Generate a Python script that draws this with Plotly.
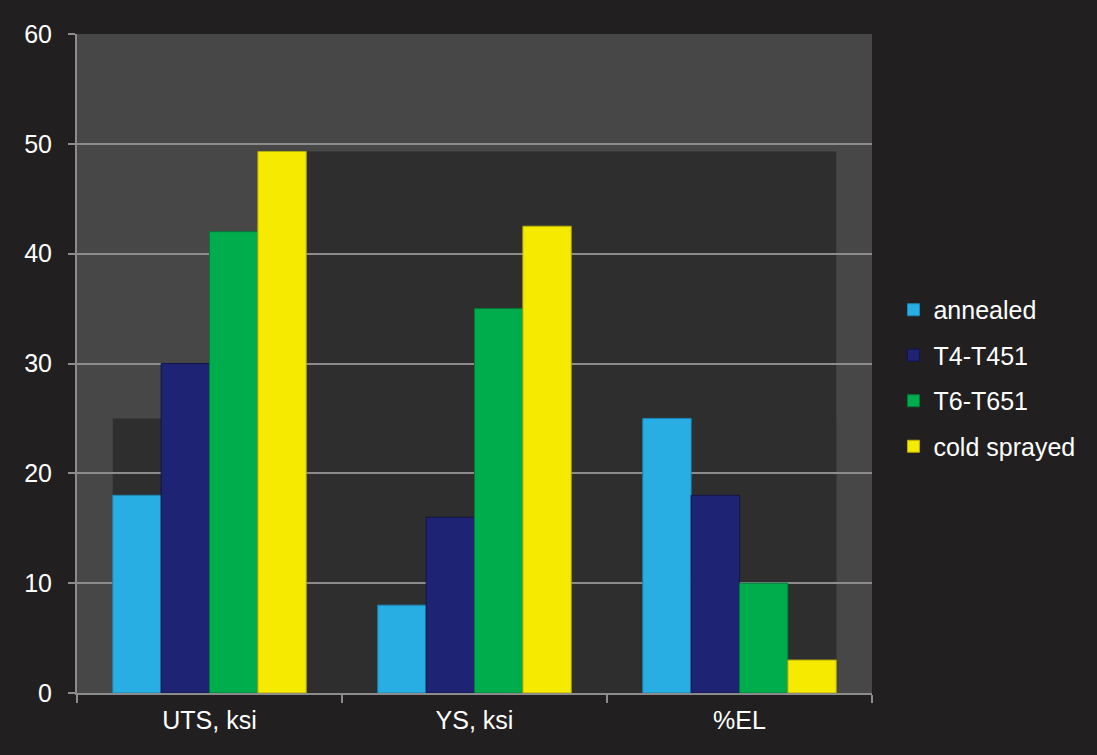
import plotly.graph_objects as go

categories = ["UTS, ksi", "YS, ksi", "%EL"]
annealed = [18, 8, 25]
t4_t451 = [30, 16, 18]
t6_t651 = [42, 35, 10]
cold_sprayed = [49.3, 42.5, 3]

series = [
    ("annealed", annealed, "#29aee4", "#1a86b8"),
    ("T4-T451", t4_t451, "#1f2374", "#12154a"),
    ("T6-T651", t6_t651, "#00ad4c", "#007a35"),
    ("cold sprayed", cold_sprayed, "#f5ea00", "#b8ad00"),
]

bargap = 0.27
fig = go.Figure()
for i, (name, vals, col, edge) in enumerate(series):
    fig.add_trace(go.Bar(
        x=categories, y=vals, name=name, legendgroup=name,
        marker=dict(color=col, line=dict(color=edge, width=1)),
    ))

half = (1 - bargap) / 2
max_all = max(max(s[1]) for s in series)
shadow = "#2e2e2e"
fig.add_shape(type="rect", xref="x", yref="y", x0=-half, x1=2 + half,
              y0=0, y1=max(annealed), fillcolor=shadow, line_width=0, layer="below")
fig.add_shape(type="rect", xref="x", yref="y", x0=half, x1=2 + half,
              y0=0, y1=max_all, fillcolor=shadow, line_width=0, layer="below")

font = dict(family="Liberation Sans, Arial, sans-serif", color="white", size=25)
fig.update_layout(
    width=1097, height=755,
    margin=dict(l=77, r=225, t=34, b=62),
    paper_bgcolor="#221f20",
    plot_bgcolor="#474747",
    barmode="group", bargap=bargap, bargroupgap=0,
    font=font,
    showlegend=True,
    legend=dict(x=1.027, xanchor="left", y=0.478, yanchor="middle",
                traceorder="grouped", tracegroupgap=10,
                font=font,
                bgcolor="rgba(0,0,0,0)"),
    xaxis=dict(type="category", showgrid=False, showline=True, linecolor="#8c8c8c",
               linewidth=2, ticks="outside", tickson="boundaries", ticklen=8,
               tickcolor="#8c8c8c", tickwidth=2, range=[-0.5, 2.5],
               tickfont=font, ticklabelstandoff=4),
    yaxis=dict(range=[0, 60], dtick=10, showgrid=True, gridcolor="#8c8c8c", gridwidth=1.5,
               showline=True, linecolor="#8c8c8c", linewidth=2, ticks="outside",
               ticklen=7, tickcolor="#8c8c8c", tickwidth=2, zeroline=False,
               tickfont=font, ticklabelstandoff=11),
)
fig.write_html("out.html", config={"displayModeBar": False},
               post_script="document.body.style.margin='0';document.body.style.background='#221f20';")
